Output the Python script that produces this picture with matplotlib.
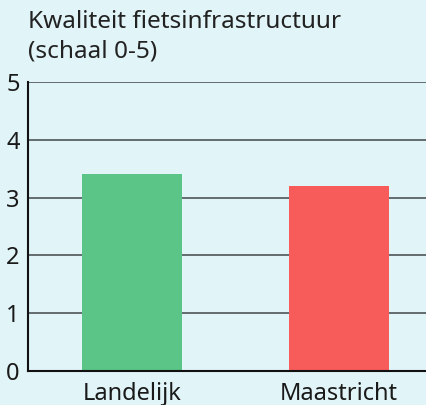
import matplotlib.pyplot as plt

categories = ["Landelijk", "Maastricht"]
values = [3.4, 3.2]
colors = ["#5ac587", "#f75c5a"]
yticks = [0, 1, 2, 3, 4, 5]

bg = "#e1f4f7"
plt.rcParams['font.family'] = ['Noto Sans', 'DejaVu Sans']

fig = plt.figure(figsize=(4.27, 4.05), dpi=100, facecolor=bg)
ax = fig.add_axes([28 / 427, 34 / 405, 1 - 28 / 427, (371 - 82) / 405])
ax.set_facecolor(bg)

for y in yticks[1:]:
    ax.axhline(y, color="#4d5557", lw=1.2, zorder=1)

x = range(len(categories))
ax.bar(x, values, width=0.483, color=colors, zorder=2)

ax.set_ylim(0, 5)
ax.set_xlim(-0.502, 1.425)
ax.set_yticks(yticks)
ax.set_xticks(list(x))
ax.set_xticklabels(categories)
ax.tick_params(axis="both", length=0, labelsize=17, colors="#1a1a1a")
ax.tick_params(axis="y", pad=6)
ax.tick_params(axis="x", pad=8)

for s in ["top", "right"]:
    ax.spines[s].set_visible(False)
ax.spines["left"].set_color("#111111")
ax.spines["bottom"].set_color("#111111")
ax.spines["left"].set_linewidth(1.5)
ax.spines["bottom"].set_linewidth(1.5)

fig.text(28 / 427, 1 - 10 / 405, "Kwaliteit fietsinfrastructuur\n(schaal 0-5)",
         ha="left", va="top", fontsize=17.5, color="#222222", linespacing=1.3)

fig.savefig("out.png", dpi=100, facecolor=bg)
